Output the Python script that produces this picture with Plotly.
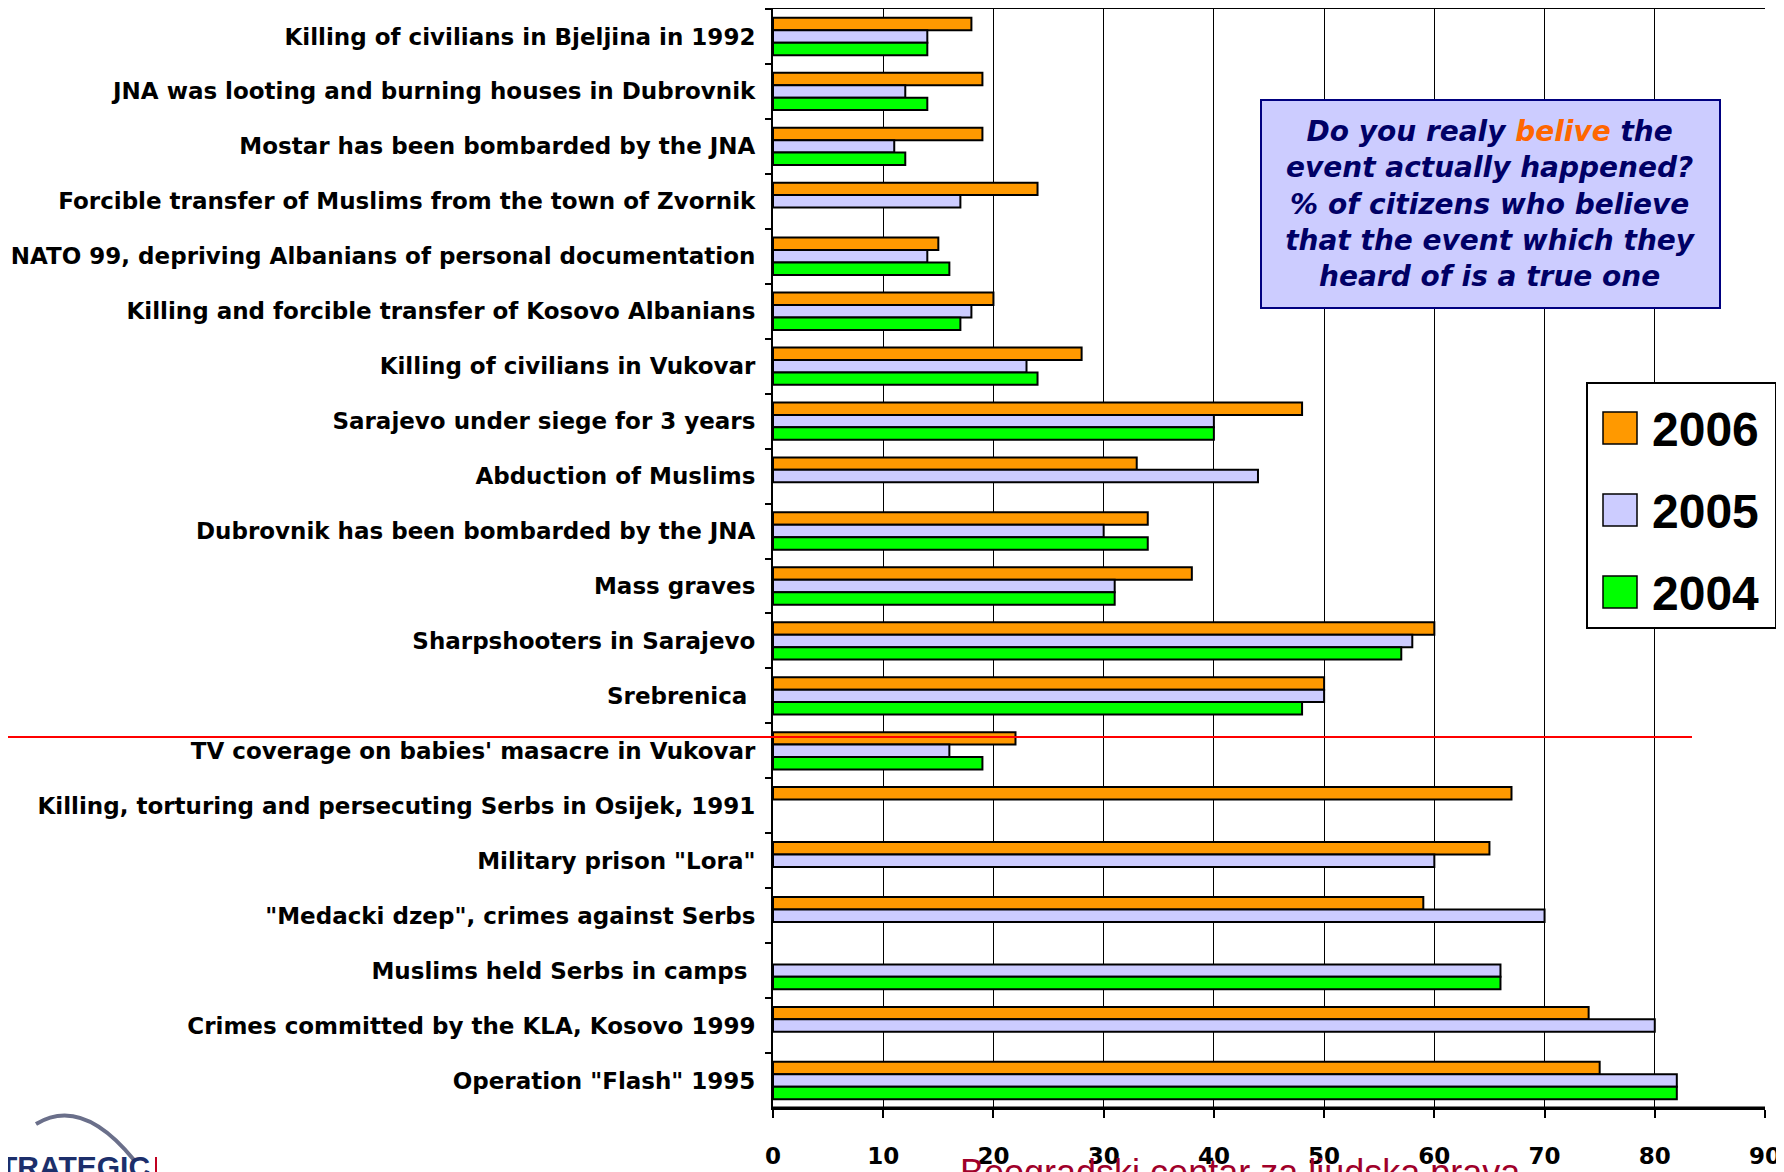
import plotly.graph_objects as go

# ---------- DATA ----------
categories = [
    "Killing of civilians in Bjeljina in 1992",
    "JNA was looting and burning houses in Dubrovnik",
    "Mostar has been bombarded by the JNA",
    "Forcible transfer of Muslims from the town of Zvornik",
    "NATO 99, depriving Albanians of personal documentation",
    "Killing and forcible transfer of Kosovo Albanians",
    "Killing of civilians in Vukovar",
    "Sarajevo under siege for 3 years",
    "Abduction of Muslims",
    "Dubrovnik has been bombarded by the JNA",
    "Mass graves",
    "Sharpshooters in Sarajevo",
    "Srebrenica\u00a0",
    "TV coverage on babies' masacre in Vukovar",
    "Killing, torturing and persecuting Serbs in Osijek, 1991",
    'Military prison "Lora"',
    '"Medacki dzep", crimes against Serbs',
    "Muslims held Serbs in camps\u00a0",
    "Crimes committed by the KLA, Kosovo 1999",
    'Operation "Flash" 1995',
]

years = ["2006", "2005", "2004"]
v2006 = [18, 19, 19, 24, 15, 20, 28, 48, 33, 34, 38, 60, 50, 22, 67, 65, 59, None, 74, 75]
v2005 = [14, 12, 11, 17, 14, 18, 23, 40, 44, 30, 31, 58, 50, 16, None, 60, 70, 66, 80, 82]
v2004 = [14, 14, 12, None, 16, 17, 24, 40, None, 34, 31, 57, 48, 19, None, None, None, 66, None, 82]
colors = ["#ff9900", "#ccccff", "#00ff00"]

x_ticks = [0, 10, 20, 30, 40, 50, 60, 70, 80, 90]

# ---------- GEOMETRY ----------
# the page body adds an 8px margin, so the figure is drawn 8px smaller
OFF = 8
W, H = 1784 - OFF, 1172 - OFF
L, R, T, B = 773 - OFF, 19, 9 - OFF, 64
PW, PH = W - L - R, H - T - B


def px(x):
    # page pixel -> paper coordinate
    return (x - OFF - L) / PW


def py(y):
    return 1 - (y - OFF - T) / PH


fig = go.Figure()

for name, vals, col in zip(years, [v2006, v2005, v2004], colors):
    fig.add_trace(go.Bar(
        x=vals, y=categories, name=name, orientation="h",
        marker=dict(color=col, line=dict(color="black", width=2)),
    ))

fig.update_layout(
    width=W, height=H,
    margin=dict(l=L, r=R, t=T, b=B, autoexpand=False),
    barmode="group", bargap=0.32, bargroupgap=0,
    plot_bgcolor="white", paper_bgcolor="white",
    showlegend=False,
    font=dict(family="DejaVu Sans", color="black"),
)

fig.update_xaxes(
    range=[0, 90], tickvals=x_ticks, automargin=False,
    showgrid=True, gridcolor="black", gridwidth=1,
    showline=True, linecolor="black", linewidth=1.5, mirror=True,
    ticks="outside", ticklen=8, tickcolor="black", tickwidth=1.5,
    tickfont=dict(family="DejaVu Sans", size=23, weight="bold"),
    ticklabelstandoff=19, zeroline=False,
)
fig.update_yaxes(
    autorange="reversed", automargin=False,
    showline=True, linecolor="black", linewidth=2,
    ticks="outside", tickson="boundaries", ticklen=6, tickcolor="black", tickwidth=2,
    tickfont=dict(family="DejaVu Sans", size=23, weight="bold"),
    ticklabelstandoff=11,
)

# heavier bottom axis line
fig.add_shape(type="line", xref="paper", yref="paper",
              x0=0, x1=1, y0=0, y1=0, line=dict(color="black", width=3))

# red separator line
fig.add_shape(type="line", xref="paper", yref="paper",
              x0=px(0), x1=px(1692), y0=py(737), y1=py(737),
              line=dict(color="#ff0000", width=2))

# question box
fig.add_annotation(
    xref="paper", yref="paper", x=px(1490), y=py(204),
    xanchor="center", yanchor="middle", showarrow=False,
    width=455, height=204, align="center",
    bgcolor="#ccccff", bordercolor="#000080", borderwidth=2,
    font=dict(family="DejaVu Sans", size=28, color="#000066", weight="bold", style="italic"),
    text="Do you realy <span style='color:#ff6600'>belive</span> the<br>"
         "event actually happened?<br>% of citizens who believe<br>"
         "that the event which they<br>heard of is a true one",
)

# legend box
fig.add_shape(type="rect", xref="paper", yref="paper",
              x0=px(1587), x1=px(1776), y0=py(628), y1=py(383),
              fillcolor="white", line=dict(color="black", width=2))
for i, (name, col) in enumerate(zip(years, colors)):
    cy = 428 + i * 82
    fig.add_shape(type="rect", xref="paper", yref="paper",
                  x0=px(1603), x1=px(1637), y0=py(cy + 16), y1=py(cy - 16),
                  fillcolor=col, line=dict(color="black", width=1.5))
    fig.add_annotation(xref="paper", yref="paper", x=px(1650), y=py(cy + 1),
                       xanchor="left", yanchor="middle", showarrow=False,
                       text=name,
                       font=dict(family="Liberation Sans", size=48, weight="bold", color="black"))

# footer
fig.add_annotation(xref="paper", yref="paper", x=px(958), y=py(1150),
                   xanchor="left", yanchor="top", showarrow=False,
                   text="Beogradski centar za ljudska prava",
                   font=dict(family="Liberation Sans", size=36, color="#a0002a"))

# logo
fig.add_shape(type="path", xref="paper", yref="paper",
              path=f"M {px(36)},{py(1124)} Q {px(82)},{py(1096)} {px(134)},{py(1160)}",
              line=dict(color="#6a6f8a", width=4))
fig.add_annotation(xref="paper", yref="paper", x=px(152), y=py(1148),
                   xanchor="right", yanchor="top", showarrow=False,
                   text="STRATEGIC",
                   font=dict(family="Liberation Sans", size=30, weight="bold", color="#1c2f6b"))
fig.add_shape(type="line", xref="paper", yref="paper",
              x0=px(156), x1=px(156), y0=py(1157), y1=py(1172),
              line=dict(color="#c00020", width=2))

fig.write_html("out.html")
